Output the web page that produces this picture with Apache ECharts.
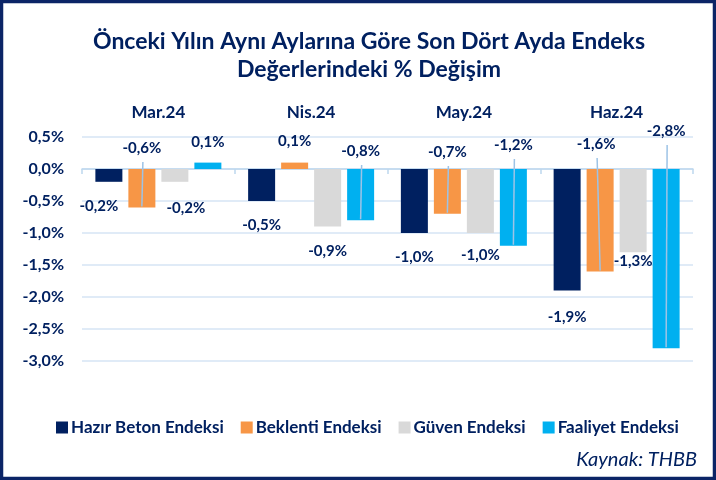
<!DOCTYPE html>
<html>
<head>
<meta charset="utf-8">
<script src="https://cdn.jsdelivr.net/npm/echarts@6/dist/echarts.min.js"></script>
<style>
    html, body { margin: 0; padding: 0; background: #fff; }
    #chart { width: 716px; height: 480px; }
</style>
</head>
<body>
<div id="chart"></div>
<script>
    // veriler
    var months = ['Mar.24', 'Nis.24', 'May.24', 'Haz.24'];
    var seriesNames = ['Hazır Beton Endeksi', 'Beklenti Endeksi', 'Güven Endeksi', 'Faaliyet Endeksi'];
    var hazirBeton = [-0.2, -0.5, -1.0, -1.9];
    var beklenti = [-0.6, 0.1, -0.7, -1.6];
    var guven = [-0.2, -0.9, -1.0, -1.3];
    var faaliyet = [0.1, -0.8, -1.2, -2.8];

    var navy = '#002060';
    var colors = ['#002060', '#F79646', '#D9D9D9', '#00B0F0'];
    var font = 'Lato';

    // etiket kaydırmaları (px) - Excel'deki elle taşınmış etiketler
    var nudge = [
        [[-10, 0], [0, 0], [0, 0], [0, 2]],
        [[0, 0], [0, -1], [0, 4], [-4, -4]],
        [[11, 2], [0, 0], [0, -2], [0, -16]],
        [[0, 0], [0, 3], [0, -3], [0, -17]]
    ];
    var labelPos = ['bottom', 'top', 'bottom', 'top'];
    var labelDist = [17, 13, 17, 13];
    var barW = 27, barStep = 33;

    function fmt(v) {
        return v.toFixed(1).replace('.', ',') + '%';
    }

    function makeSeries(idx, values) {
        return {
            name: seriesNames[idx],
            type: 'bar',
            xAxisIndex: 0,
            barWidth: barW,
            barGap: ((barStep - barW) / barW * 100) + '%',
            itemStyle: { color: colors[idx] },
            label: {
                show: true,
                position: labelPos[idx],
                distance: labelDist[idx],
                formatter: function (p) { return fmt(p.value); },
                color: navy,
                fontFamily: font,
                fontWeight: 'bold',
                fontSize: 15
            },
            labelLayout: function (p) {
                var d = nudge[idx][p.dataIndex];
                return { dx: d[0], dy: d[1] };
            },
            data: values
        };
    }

    // kılavuz çizgileri (etiketten çubuk ucuna)
    var leaderData = [];
    [[1, beklenti], [3, faaliyet]].forEach(function (s) {
        s[1].forEach(function (v, i) {
            if (v < 0) leaderData.push([i, v, s[0]]);
        });
    });

    var option = {
        animation: false,
        title: {
            text: 'Önceki Yılın Aynı Aylarına Göre Son Dört Ayda Endeks\nDeğerlerindeki % Değişim',
            left: 364,
            textAlign: 'center',
            top: 23,
            textStyle: {
                color: navy,
                fontFamily: font,
                fontWeight: 'bold',
                fontSize: 23,
                lineHeight: 28
            }
        },
        legend: {
            data: seriesNames,
            left: 51,
            top: 414,
            icon: 'rect',
            itemWidth: 12,
            itemHeight: 12,
            itemGap: 17,
            textStyle: {
                color: navy,
                fontFamily: font,
                fontWeight: 'bold',
                fontSize: 17,
                padding: [0, 0, 0, -2]
            }
        },
        grid: {
            left: 82,
            right: 23,
            top: 137,
            bottom: 119
        },
        xAxis: [
            {
                type: 'category',
                data: months,
                position: 'top',
                axisLine: { show: false, onZero: false },
                axisTick: { show: false },
                axisLabel: {
                    color: navy,
                    fontFamily: font,
                    fontWeight: 'bold',
                    fontSize: 17,
                    margin: 16
                }
            },
            {
                type: 'category',
                data: months,
                position: 'bottom',
                axisLine: { show: true, onZero: true, lineStyle: { color: '#BDD7EE', width: 1.5 } },
                axisTick: { show: true, length: 5, lineStyle: { color: '#BDD7EE', width: 1.5 } },
                axisLabel: { show: false }
            }
        ],
        yAxis: {
            type: 'value',
            min: -3,
            max: 0.5,
            interval: 0.5,
            axisLine: { show: false },
            axisTick: { show: false },
            splitLine: { lineStyle: { color: '#D6E4F4', width: 1.5 } },
            axisLabel: {
                formatter: fmt,
                color: navy,
                fontFamily: font,
                fontWeight: 'bold',
                fontSize: 16,
                margin: 18
            }
        },
        graphic: [
            {
                type: 'rect',
                shape: { x: 1.5, y: 1.5, width: 713, height: 477 },
                style: { fill: 'none', stroke: '#0B2466', lineWidth: 3.5 },
                silent: true
            },
            {
                type: 'text',
                right: 19,
                top: 450,
                style: {
                    text: 'Kaynak: THBB',
                    fill: navy,
                    font: 'italic 20px ' + font
                }
            }
        ],
        series: [
            makeSeries(0, hazirBeton),
            makeSeries(1, beklenti),
            makeSeries(2, guven),
            makeSeries(3, faaliyet),
            {
                type: 'custom',
                name: 'leader',
                xAxisIndex: 0,
                z: 5,
                silent: true,
                encode: { x: 0, y: 1 },
                renderItem: function (params, api) {
                    var c = api.value(0), v = api.value(1), s = api.value(2);
                    var end = api.coord([c, v]);
                    var base = api.coord([c, 0]);
                    var off = (s - 1.5) * barStep;
                    var d = nudge[s][c];
                    return {
                        type: 'line',
                        shape: {
                            x1: base[0] + off + d[0] + 1,
                            y1: base[1] - labelDist[s] + d[1] + 6,
                            x2: end[0] + off,
                            y2: end[1] - 1
                        },
                        style: { stroke: '#9DC3E6', lineWidth: 1.5 }
                    };
                },
                data: leaderData
            }
        ]
    };

    var chart = echarts.init(document.getElementById('chart'));
    chart.setOption(option);
</script>
</body>
</html>
